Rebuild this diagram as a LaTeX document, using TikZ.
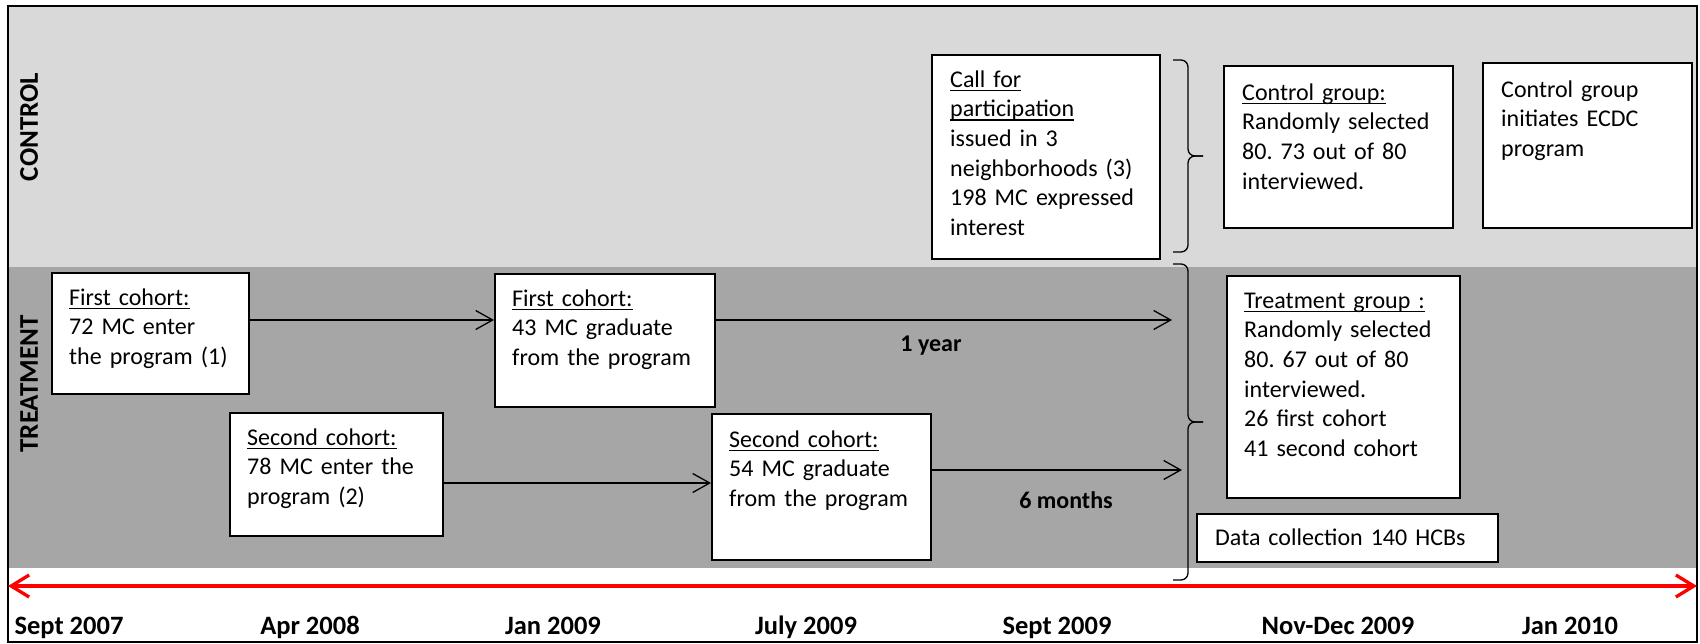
\documentclass[tikz,border=0pt]{standalone}
\usepackage{fontspec}
\setmainfont{Carlito}
\usetikzlibrary{arrows.meta}
\definecolor{ctrlgray}{HTML}{D9D9D9}
\definecolor{treatgray}{HTML}{A6A6A6}
\newsavebox{\ulbox}
\newcommand{\ulined}[1]{\leavevmode\sbox{\ulbox}{#1}\rlap{\rule[-3.8pt]{\wd\ulbox}{1.3pt}}\usebox{\ulbox}}
\frenchspacing
\begin{document}
\begin{tikzpicture}[x=1pt, y=-1pt,
        panel/.style={draw, line width=1.5pt, fill=white, anchor=north west, inner sep=0pt},
        paneltext/.style={anchor=base west, inner sep=0pt, text width=300pt, align=left,
            font=\fontsize{24}{29.7}\selectfont},
        group/.style={rotate=90, inner sep=0pt, font=\bfseries\fontsize{27}{30}\selectfont},
        span/.style={inner sep=0pt, font=\bfseries\fontsize{24}{28}\selectfont},
        date/.style={anchor=base, inner sep=0pt, font=\bfseries\fontsize{26.5}{30}\selectfont},
        flow/.style={-{Straight Barb[length=17pt,width=19pt]}, line width=1.3pt},
        timeline/.style={{Straight Barb[length=18pt,width=22pt]}-{Straight Barb[length=18pt,width=22pt]},
            red, line width=3.3pt},
        bracket/.style={rounded corners=7pt, line width=1.3pt}]
    \useasboundingbox (0,0) rectangle (1700,643);

    % Hintergrund
    \fill[ctrlgray] (8,6) rectangle (1697,267);
    \fill[treatgray] (8,267) rectangle (1697,568);
    \draw[line width=2pt] (8,6) rectangle (1697,642);

    \node[group] (control) at (29,127) {CONTROL};
    \node[group] (treatment) at (29,384) {TREATMENT};

    % Kästen
    \node[panel, minimum width=197, minimum height=121] (fc1) at (51,272) {};
    \node[paneltext] (fc1t) at ([shift={(18,33)}]fc1.north west)
        {\ulined{First cohort:}\\72 MC enter\\the program (1)};
    \node[panel, minimum width=220, minimum height=133] (fc2) at (494,273) {};
    \node[paneltext] (fc2t) at ([shift={(18,33)}]fc2.north west)
        {\ulined{First cohort:}\\43 MC graduate\\from the program};
    \node[panel, minimum width=213, minimum height=123] (sc1) at (229,412) {};
    \node[paneltext] (sc1t) at ([shift={(18,33)}]sc1.north west)
        {\ulined{Second cohort:}\\78 MC enter the\\program (2)};
    \node[panel, minimum width=219, minimum height=146] (sc2) at (711,413) {};
    \node[paneltext] (sc2t) at ([shift={(18,34)}]sc2.north west)
        {\ulined{Second cohort:}\\54 MC graduate\\from the program};
    \node[panel, minimum width=228, minimum height=204] (call) at (931,54) {};
    \node[paneltext] (callt) at ([shift={(19,33)}]call.north west)
        {\ulined{Call for}\\\ulined{participation}\\issued in 3\\neighborhoods (3)\\198 MC expressed\\interest};
    \node[panel, minimum width=229, minimum height=162] (ctrl) at (1223,65) {};
    \node[paneltext] (ctrlt) at ([shift={(19,35)}]ctrl.north west)
        {\ulined{Control group:}\\Randomly selected\\80. 73 out of 80\\interviewed.};
    \node[panel, minimum width=209, minimum height=165] (ecdc) at (1482,62) {};
    \node[paneltext] (ecdct) at ([shift={(19,35)}]ecdc.north west)
        {Control group\\initiates ECDC\\program};
    \node[panel, minimum width=233, minimum height=222] (treat) at (1226,275) {};
    \node[paneltext] (treatt) at ([shift={(18,33)}]treat.north west)
        {\ulined{Treatment group :}\\Randomly selected\\80. 67 out of 80\\interviewed.\\26 first cohort\\41 second cohort};
    \node[panel, minimum width=301, minimum height=48] (data) at (1196,513) {};
    \node[paneltext] (datat) at ([shift={(19,32)}]data.north west) {Data collection 140 HCBs};

    % Pfeile
    \coordinate (row1) at (0,320);
    \coordinate (row2) at (0,483);
    \coordinate (end1) at (1172,320);
    \coordinate (end2) at (1182,470);
    \draw[flow] (fc1.east |- row1) -- (fc2.west |- row1);
    \draw[flow] (fc2.east |- row1) -- (end1);
    \draw[flow] (sc1.east |- row2) -- (sc2.west |- row2);
    \draw[flow] (sc2.east |- end2) -- (end2);
    \node[span] (year) at (931,346) {1 year};
    \node[span] (months) at (1066,500) {6 months};

    % Klammern
    \draw[bracket] (1173,60) -- (1188,60) -- (1188,156) -- (1203,156);
    \draw[bracket] (1203,156) -- (1188,156) -- (1188,252) -- (1173,252);
    \draw[bracket] (1173,264) -- (1188,264) -- (1188,422) -- (1203,422);
    \draw[bracket] (1203,422) -- (1188,422) -- (1188,580) -- (1173,580);

    % Zeitachse
    \coordinate (t0) at (8,586);
    \coordinate (t1) at (1697,586);
    \draw[timeline] (t0) -- (t1);
    \foreach \x/\d [count=\i] in {69/Sept 2007, 310/Apr 2008, 553/Jan 2009, 806/July 2009,
            1057/Sept 2009, 1338/Nov-Dec 2009, 1570/Jan 2010}
        \node[date] (d\i) at (\x,634) {\d};
\end{tikzpicture}
\end{document}
